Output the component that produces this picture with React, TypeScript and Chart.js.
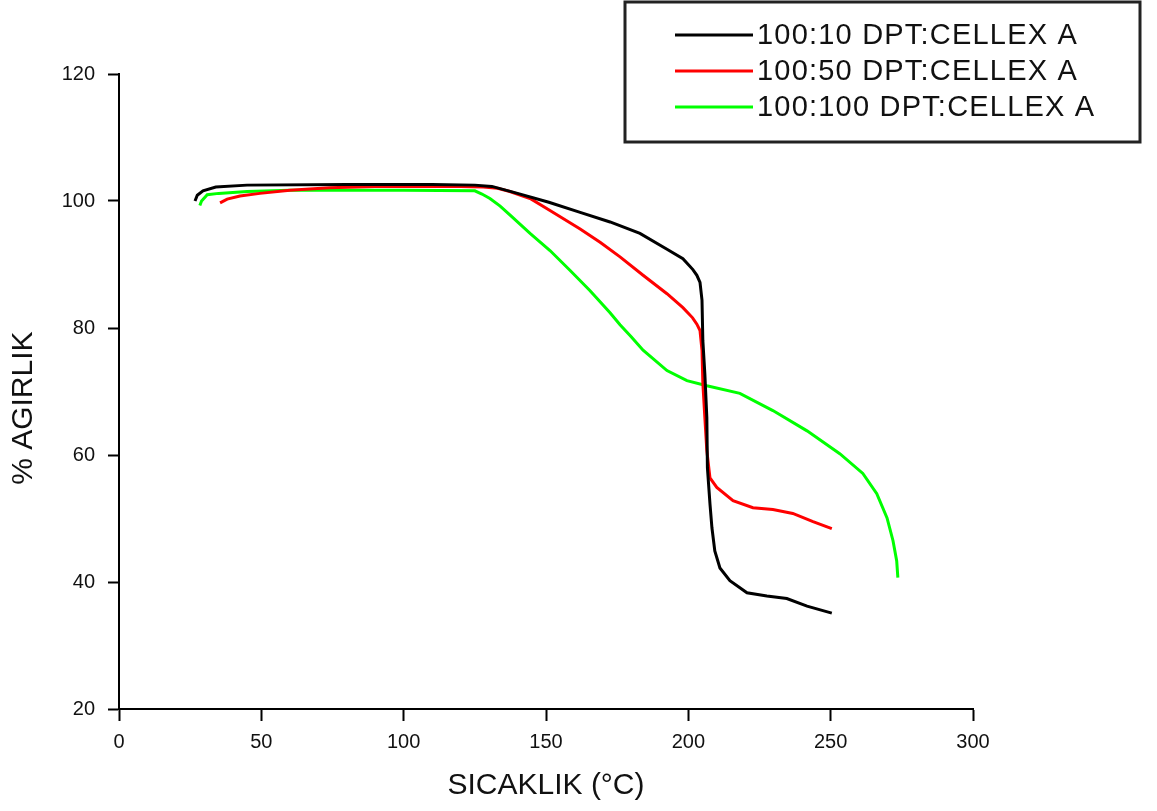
import React, { useEffect, useRef } from "react";
import { Chart, registerables } from "chart.js";

Chart.register(...registerables);

const FONT = "'Liberation Sans', Arial, sans-serif";

const seriesLabels = ["100:10 DPT:CELLEX A", "100:50 DPT:CELLEX A", "100:100 DPT:CELLEX A"];
const seriesColors = ["#000000", "#ff0000", "#00ff00"];

// [temperature °C, weight %]
const black10: [number, number][] = [
  [26.7, 100], [27.5, 100.9], [29.5, 101.6], [34, 102.2], [45, 102.5], [80, 102.6], [110, 102.6],
  [125, 102.5], [131, 102.3], [140, 101.2], [151, 99.8], [162, 98.2], [172.5, 96.7], [183, 94.9],
  [192.5, 92.4], [198.1, 90.9], [201.6, 89.2], [203, 88.3], [204.1, 87.2], [204.8, 84.4], [205.1, 78],
  [205.8, 72.8], [206.5, 65.9], [206.7, 58], [207.6, 52.3], [208.3, 48.5], [209.3, 44.9], [211.1, 42.2],
  [214.6, 40.2], [220.6, 38.3], [227.6, 37.8], [234.6, 37.4], [241.7, 36.2], [250.4, 35.1],
];

const red50: [number, number][] = [
  [35.5, 99.7], [38, 100.3], [42.5, 100.8], [49.5, 101.2], [60, 101.7], [74, 102.1], [90, 102.3],
  [120, 102.3], [128, 102.2], [133, 102], [137.3, 101.5], [144.4, 100.4], [151.4, 98.5], [162, 95.6],
  [169, 93.5], [176, 91.2], [184.1, 88.3], [192.5, 85.4], [198.1, 83.2], [201.5, 81.6], [203, 80.6],
  [204.1, 79.6], [204.8, 76.5], [205.1, 71.3], [205.8, 65.9], [206.5, 60.7], [207.6, 56.4], [210, 54.9],
  [215.7, 52.8], [222.7, 51.7], [229.7, 51.4], [236.7, 50.8], [243.8, 49.5], [250.4, 48.4],
];

const green100: [number, number][] = [
  [28.4, 99.3], [29, 100], [31, 101], [35, 101.2], [45, 101.5], [60, 101.7], [100, 101.7],
  [125, 101.6], [127.5, 101.1], [130.3, 100.4], [133.9, 99.2], [137.3, 97.8], [144.4, 94.9],
  [151.4, 92.2], [158.4, 89.1], [165.4, 85.9], [172.5, 82.4], [176, 80.5], [180, 78.6], [184.1, 76.5],
  [192.5, 73.3], [199.5, 71.7], [206.5, 70.9], [218.1, 69.7], [229.7, 67], [241.7, 63.8], [253.2, 60.2],
  [261.3, 57.1], [266.2, 53.9], [269.8, 50.1], [271.9, 46.5], [273.2, 43.3], [273.6, 40.7],
];

const seriesData = [black10, red50, green100];

const xTitle = "SICAKLIK (°C)";
const yTitle = "% AGIRLIK";

const boxLegend = {
  id: "boxLegend",
  afterDraw(chart: any) {
    const ctx = chart.ctx;
    ctx.save();
    ctx.strokeStyle = "#222";
    ctx.lineWidth = 3;
    ctx.strokeRect(625, 2, 515, 140);
    ctx.font = `29px ${FONT}`;
    ctx.textBaseline = "middle";
    ctx.textAlign = "left";
    try { (ctx as any).letterSpacing = "1.2px"; } catch (e) {}
    chart.data.datasets.forEach((ds: any, i: number) => {
      const y = 35 + i * 36;
      ctx.strokeStyle = ds.borderColor;
      ctx.lineWidth = 3;
      ctx.beginPath();
      ctx.moveTo(675, y);
      ctx.lineTo(753, y);
      ctx.stroke();
      ctx.fillStyle = "#111";
      ctx.fillText(ds.label, 757, y + 1);
    });
    ctx.restore();
  },
};

export default function App() {
  const ref = useRef<HTMLCanvasElement>(null);
  useEffect(() => {
    if (!ref.current) return;
    const chart = new Chart(ref.current, {
      type: "line",
      data: {
        datasets: seriesData.map((d, i) => ({
          label: seriesLabels[i],
          data: d.map(([x, y]) => ({ x, y })),
          borderColor: seriesColors[i],
          backgroundColor: seriesColors[i],
          borderWidth: 3,
          pointRadius: 0,
          tension: 0,
          fill: false,
        })),
      },
      options: {
        responsive: false,
        animation: false,
        layout: { padding: { left: 0, top: 74, right: 184, bottom: 0 } },
        plugins: { legend: { display: false }, tooltip: { enabled: false } },
        scales: {
          x: {
            type: "linear",
            min: 0,
            max: 300,
            ticks: { stepSize: 50, color: "#111", font: { family: FONT, size: 20 }, padding: 9, maxRotation: 0 },
            grid: { display: true, drawOnChartArea: false, drawTicks: true, tickLength: 12, color: "#000", tickWidth: 2 },
            border: { display: true, color: "#000", width: 2 },
            title: { display: true, text: xTitle, color: "#111", font: { family: FONT, size: 30 }, padding: { top: 0, bottom: 7 } },
            afterFit: (s: any) => { s.height = 102; },
          },
          y: {
            type: "linear",
            min: 20,
            max: 120,
            ticks: { stepSize: 20, color: "#111", font: { family: FONT, size: 20 }, padding: 13 },
            grid: { display: true, drawOnChartArea: false, drawTicks: true, tickLength: 11, color: "#000", tickWidth: 2 },
            border: { display: true, color: "#000", width: 2 },
            title: { display: true, text: yTitle + "    ", color: "#111", font: { family: FONT, size: 30 }, padding: { top: 6, bottom: 0 } },
            afterFit: (s: any) => { s.width = 119; },
          },
        },
      },
      plugins: [boxLegend],
    });
    return () => chart.destroy();
  }, []);
  return (
    <div style={{ position: "fixed", left: 0, top: 0, width: 1157, height: 811, background: "#fff" }}>
      <canvas ref={ref} width={1157} height={811} />
    </div>
  );
}
